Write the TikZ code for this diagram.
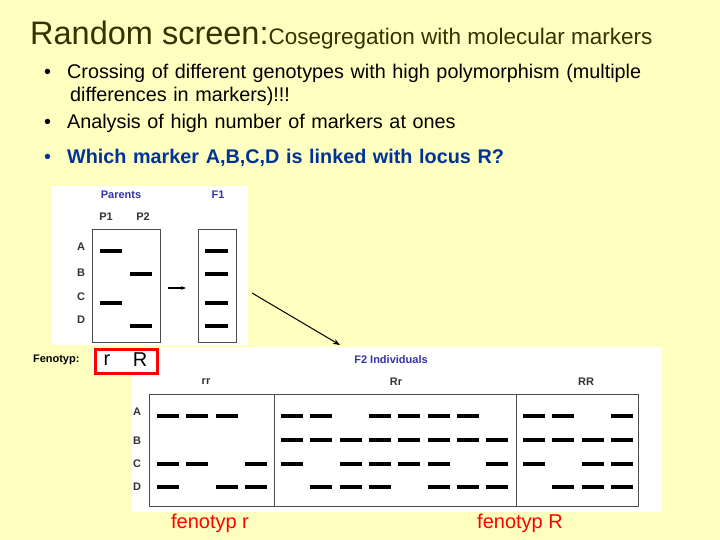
\documentclass[tikz,border=0pt]{standalone}
\usepackage{fontspec}
\setmainfont{Liberation Sans}
\usetikzlibrary{arrows.meta}
\definecolor{bg}{RGB}{255,255,192}
\definecolor{ttl}{RGB}{51,51,0}
\definecolor{bl}{RGB}{0,51,153}
\definecolor{lbl}{RGB}{51,51,170}
\begin{document}
\begin{tikzpicture}[x=1pt,y=-1pt,
  band/.style={line width=3.4pt,black},
  lab/.style={font=\fontsize{11}{12}\selectfont\bfseries, text=black!80},
  head/.style={font=\fontsize{11}{12}\selectfont\rmfamily\bfseries, text=lbl},
  btxt/.style={anchor=west,font=\fontsize{19.8}{22.5}\selectfont, align=left, text width=690, inner sep=0}]
\fill[bg] (0,0) rectangle (720,540);
\useasboundingbox (0,0) rectangle (720,540);
\node[anchor=base west,text=ttl,inner sep=0] (title) at (30,45) {\fontsize{32.5}{34}\selectfont Random screen:\fontsize{22.5}{24}\selectfont Cosegregation with molecular markers};
\node[btxt] (b1) at (44,85) {•\hspace{16pt}Crossing of different genotypes with high polymorphism (multiple\\\hspace{26pt}differences in markers)!!!};
\node[btxt] (b2) at (44,123) {•\hspace{16pt}Analysis of high number of markers at ones};
\node[btxt,text=bl] (b3) at (44,158) {•\hspace{16pt}\textbf{Which marker A,B,C,D is linked with locus R?}};
% parents panel
\fill[white] (52,186) rectangle (248,345);
\node[head] (par) at (121,195) {Parents};
\node[head] (f1) at (218,195) {F1};
\node[lab] (p1) at (106,217) {P1};
\node[lab] (p2) at (143,217) {P2};
\node[draw,black!70,minimum width=68,minimum height=113,anchor=north west,inner sep=0] (pbox) at (92,229) {};
\node[draw,black!70,minimum width=38,minimum height=113,anchor=north west,inner sep=0] (fbox) at (198,229) {};
\foreach \l/\y in {A/251,B/277,C/301,D/324}{\node[lab] (pl\l) at (81,\y-4) {\l};}
\draw[band] (100,251)--(122,251); \draw[band] (130,274)--(152,274);
\draw[band] (100,303)--(122,303); \draw[band] (130,326)--(152,326);
\foreach \y in {251,274,303,326}{\draw[band] (205,\y)--(228,\y);}
\coordinate (sa) at (168,288); \coordinate (sb) at (186,288);
\draw[-{Stealth[length=5pt]},line width=1.2pt] (sa)--(sb);
% fenotyp
\node[anchor=east,font=\fontsize{11}{12}\selectfont\bfseries] (fen) at (83,360) {Fenotyp:};
\fill[white] (92,347) rectangle (158,373);
\node[draw=red,line width=3pt,minimum width=62,minimum height=24,inner sep=0,anchor=north west] (rbox) at (94,348) {};
\node[font=\fontsize{20}{22}\selectfont] (rr0) at (107,360) {r};
\node[font=\fontsize{20}{22}\selectfont] (RR0) at (140,360) {R};
% F2 panel
\fill[white] (160,347) rectangle (662,512);
\fill[white] (132,375) rectangle (662,512);
\node[head] (f2) at (391,360) {F2 Individuals};
\node[lab] (g1) at (206,382) {rr};
\node[lab] (g2) at (396,382) {Rr};
\node[lab] (g3) at (586,382) {RR};
\draw[black!70] (149,394) rectangle (638,506);
\draw[black!70] (274,394)--(274,506); \draw[black!70] (516,394)--(516,506);
\foreach \l/\y in {A/412,B/441,C/464,D/487}{\node[lab] (fl\l) at (137,\y) {\l};}
\foreach \x in {157,186,216,281,310,369,398,428,457,523,552,611}{\draw[band] (\x,416)--(\x+22,416);}
\foreach \x in {281,310,340,369,398,428,457,486,523,552,582,611}{\draw[band] (\x,440)--(\x+22,440);}
\foreach \x in {157,186,245,281,340,369,398,428,486,523,582,611}{\draw[band] (\x,464)--(\x+22,464);}
\foreach \x in {157,216,245,310,340,369,428,457,486,552,582,611}{\draw[band] (\x,487)--(\x+22,487);}
% arrow
\coordinate (la) at (252,293); \coordinate (lb) at (340,345);
\draw[-{Stealth[length=7pt]},line width=1pt] (la)--(lb);
\node[text=red,font=\fontsize{20}{22}\selectfont] (fr) at (210,523) {fenotyp r};
\node[text=red,font=\fontsize{20}{22}\selectfont] (fR) at (520,523) {fenotyp R};
\end{tikzpicture}
\end{document}
